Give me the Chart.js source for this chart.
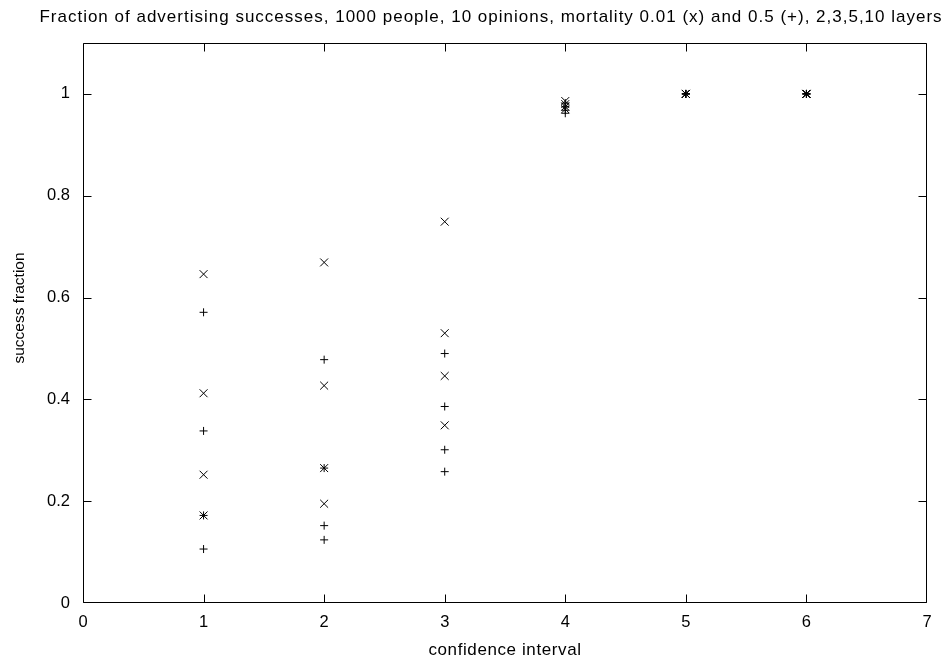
<!DOCTYPE html>
<html>
<head>
<meta charset="utf-8">
<script src="https://cdn.jsdelivr.net/npm/chart.js@4"></script>
<style>
  body { margin: 0; background: #fff; }
  canvas { display: block; }
</style>
</head>
<body>
<canvas id="chart" width="946" height="664"></canvas>
<script>
const titleText = 'Fraction of advertising successes, 1000 people, 10 opinions, mortality 0.01 (x) and 0.5 (+), 2,3,5,10 layers';
const xLabel = 'confidence interval';
const yLabel = 'success fraction';

// confidence interval values on the x axis
const confidence = [1, 2, 3, 4, 5, 6];

// success fraction for the 4 layer counts (2,3,5,10), one row per confidence interval
const mortality001 = [
    [0.646, 0.412, 0.252, 0.172],
    [0.669, 0.427, 0.265, 0.195],
    [0.749, 0.530, 0.446, 0.349],
    [0.986, 0.980, 0.975, 0.970],
    [1, 1, 1, 1],
    [1, 1, 1, 1]
];
const mortality05 = [
    [0.571, 0.338, 0.172, 0.106],
    [0.478, 0.265, 0.152, 0.124],
    [0.490, 0.386, 0.301, 0.258],
    [0.982, 0.975, 0.968, 0.962],
    [1, 1, 1, 1],
    [1, 1, 1, 1]
];

const xTicks = [0, 1, 2, 3, 4, 5, 6, 7];
const yTicks = [0, 0.2, 0.4, 0.6, 0.8, 1];

function points(rows) {
    const out = [];
    rows.forEach((row, i) => {
        row.forEach(v => out.push({x: confidence[i], y: v}));
    });
    return out;
}

const fontFamily = '"Liberation Sans", Arial, sans-serif';

// gnuplot style frame with inward ticks on all four sides, plus the titles
const framePlugin = {
    id: 'frame',
    afterDatasetsDraw(chart) {
        const ctx = chart.ctx;
        const a = chart.chartArea;
        const xs = chart.scales.x, ys = chart.scales.y;
        const L = Math.round(a.left) + 0.5, R = Math.round(a.right) - 0.5;
        const T = Math.round(a.top) + 0.5, B = Math.round(a.bottom) - 0.5;
        const tick = 8;
        const clamp = (v, lo, hi) => Math.min(hi, Math.max(lo, v));
        ctx.save();
        ctx.strokeStyle = '#000';
        ctx.lineWidth = 1;
        ctx.beginPath();
        ctx.rect(L, T, R - L, B - T);
        xTicks.forEach(v => {
            const px = clamp(Math.round(xs.getPixelForValue(v)) + 0.5, L, R);
            ctx.moveTo(px, B); ctx.lineTo(px, B - tick);
            ctx.moveTo(px, T); ctx.lineTo(px, T + tick);
        });
        yTicks.forEach(v => {
            const py = clamp(Math.round(ys.getPixelForValue(v)) + 0.5, T, B);
            ctx.moveTo(L, py); ctx.lineTo(L + tick, py);
            ctx.moveTo(R, py); ctx.lineTo(R - tick, py);
        });
        ctx.stroke();

        ctx.fillStyle = '#000';
        ctx.textAlign = 'center';
        ctx.textBaseline = 'alphabetic';
        ctx.font = '17px ' + fontFamily;
        ctx.letterSpacing = '1px';
        ctx.fillText(titleText, 491, 22);

        ctx.letterSpacing = '0.6px';
        ctx.fillText(xLabel, (a.left + a.right) / 2, 655);

        ctx.letterSpacing = '0px';
        ctx.translate(24, 308);
        ctx.rotate(-Math.PI / 2);
        ctx.font = '15.5px ' + fontFamily;
        ctx.fillText(yLabel, 0, 0);
        ctx.restore();
    }
};

const config = {
    type: 'scatter',
    data: {
        datasets: [{
            label: 'mortality 0.01',
            data: points(mortality001),
            pointStyle: 'crossRot',
            radius: 5.6,
            borderColor: '#000',
            backgroundColor: '#000',
            borderWidth: 1
        }, {
            label: 'mortality 0.5',
            data: points(mortality05),
            pointStyle: 'cross',
            radius: 4,
            borderColor: '#000',
            backgroundColor: '#000',
            borderWidth: 1
        }]
    },
    options: {
        responsive: false,
        animation: false,
        devicePixelRatio: 1,
        layout: { padding: { top: 43, right: 19, left: 0, bottom: 0 } },
        plugins: {
            legend: { display: false },
            title: { display: false },
            tooltip: { enabled: false }
        },
        scales: {
            x: {
                type: 'linear',
                min: 0,
                max: 7,
                afterBuildTicks: s => { s.ticks = xTicks.map(v => ({value: v})); },
                afterFit: s => { s.height = 61; },
                grid: { display: false, drawTicks: false },
                border: { display: false },
                ticks: {
                    color: '#000',
                    padding: 10,
                    maxRotation: 0,
                    callback: v => String(v),
                    font: { family: fontFamily, size: 16.5 }
                }
            },
            y: {
                type: 'linear',
                min: 0,
                max: 1.1,
                afterBuildTicks: s => { s.ticks = yTicks.map(v => ({value: v})); },
                afterFit: s => { s.width = 83; },
                grid: { display: false, drawTicks: false },
                border: { display: false },
                ticks: {
                    color: '#000',
                    padding: 13,
                    callback: v => String(v),
                    font: { family: fontFamily, size: 16.5 }
                }
            }
        }
    },
    plugins: [framePlugin]
};

new Chart(document.getElementById('chart'), config);
</script>
</body>
</html>
